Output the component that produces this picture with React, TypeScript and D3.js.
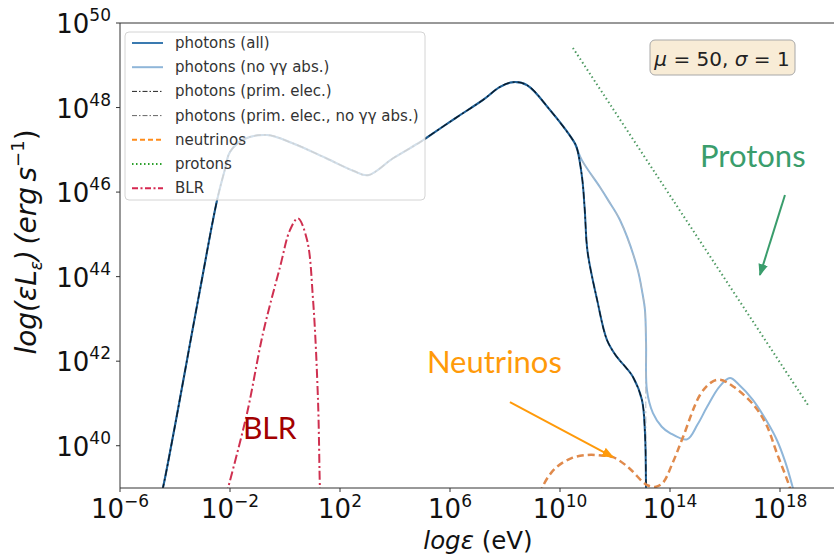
import * as d3 from 'd3'
import { useRef, useEffect } from 'react'

// log10 of energy (eV) and of luminosity (erg/s)
const sedLogE = [-4.6, -4.44, -3.16, -2.47, -2.2, -2.0, -1.5, -0.65, 0.3, 1.5, 2.5, 3.02, 3.93, 4.91, 5.09, 6.2, 7.2, 7.82, 8.29, 8.8, 9.64, 10.47]
const sedLogL = [38.6, 39.0, 43.45, 45.81, 46.5, 46.95, 47.25, 47.35, 47.15, 46.8, 46.5, 46.4, 46.8, 47.18, 47.26, 47.75, 48.18, 48.49, 48.6, 48.53, 47.94, 47.23]

const absTailLogE = [10.6, 10.8, 10.9, 11.0, 11.35, 11.71, 12.07, 12.4, 12.65, 12.98, 13.09, 13.13, 13.15]
const absTailLogL = [47.07, 46.36, 45.58, 44.6, 43.45, 42.5, 42.1, 41.85, 41.63, 41.08, 40.3, 39.0, 38.6]

const noAbsTailLogE = [10.8, 11.45, 11.75, 12.18, 12.8, 13.0, 13.09, 13.13, 13.16, 13.38, 13.7, 14.0, 14.62, 15.0, 15.35, 15.8, 16.18, 16.5, 17.02, 17.5, 17.89, 18.2, 18.47, 18.55]
const noAbsTailLogL = [46.75, 46.12, 45.81, 45.34, 44.23, 43.6, 43.21, 42.4, 41.32, 40.77, 40.45, 40.3, 40.15, 40.5, 40.92, 41.4, 41.6, 41.45, 41.08, 40.6, 40.13, 39.6, 39.0, 38.8]

const primNoAbsTailLogE = [10.8, 11.45, 11.75, 12.18, 12.8, 13.0, 13.09, 13.12, 13.13]
const primNoAbsTailLogL = [46.75, 46.12, 45.81, 45.34, 44.23, 43.6, 43.21, 41.0, 38.6]

const neutrinoLogE = [9.2, 9.35, 9.8, 10.4, 10.98, 11.5, 11.93, 12.5, 13.0, 13.2, 13.5, 13.75, 14.1, 14.47, 15.09, 15.5, 15.82, 16.3, 17.02, 17.5, 17.9, 18.36, 18.5]
const neutrinoLogL = [38.6, 39.0, 39.45, 39.7, 39.78, 39.77, 39.73, 39.48, 39.15, 39.06, 39.03, 39.13, 39.6, 40.2, 41.2, 41.5, 41.56, 41.4, 40.98, 40.5, 39.8, 39.0, 38.6]

const protonLogE = [10.47, 14.11, 19.02]
const protonLogL = [49.41, 45.81, 40.96]

const blrLogE = [-2.15, -2.07, -1.38, -0.8, -0.18, 0.18, 0.47, 0.8, 1.02, 1.2, 1.27, 1.3]
const blrLogL = [38.8, 39.0, 40.77, 42.66, 44.23, 45.1, 45.38, 44.87, 43.45, 41.08, 39.0, 38.6]

const xTickExp = [-6, -2, 2, 6, 10, 14, 18]
const yTickExp = [40, 42, 44, 46, 48, 50]

const legendLabels = [
  'photons (all)',
  'photons (no γγ abs.)',
  'photons (prim. elec.)',
  'photons (prim. elec., no γγ abs.)',
  'neutrinos',
  'protons',
  'BLR',
]

const toPts = (le: number[], ll: number[]) => le.map((e, i) => [10 ** e, 10 ** ll[i]] as [number, number])

export default function App() {
  const svgRef = useRef<SVGSVGElement>(null)
  useEffect(() => {
    document.body.style.margin = '0'
    const width = 834, height = 558
    const margin = { top: 23, left: 120, bottom: 70 }
    const svg = d3.select(svgRef.current)
    svg.selectAll('*').remove()
    svg.attr('width', width).attr('height', height)

    const x = d3.scaleLog().domain([1e-6, 1e20]).range([margin.left, 835])
    const y = d3.scaleLog().domain([1e39, 1e50]).range([height - margin.bottom, margin.top])
    const x0 = margin.left, y0 = height - margin.bottom

    svg.append('defs').append('clipPath').attr('id', 'plotclip')
      .append('rect').attr('x', x0).attr('y', margin.top).attr('width', 835 - x0).attr('height', y0 - margin.top)

    const line = d3.line<[number, number]>().x(d => x(d[0])).y(d => y(d[1])).curve(d3.curveCatmullRom.alpha(0.5))
    const plot = svg.append('g').attr('clip-path', 'url(#plotclip)')

    const sedAll = toPts(sedLogE.concat(absTailLogE), sedLogL.concat(absTailLogL))
    const sedNoAbs = toPts(sedLogE.concat(noAbsTailLogE), sedLogL.concat(noAbsTailLogL))
    const primNoAbs = toPts(sedLogE.concat(primNoAbsTailLogE), sedLogL.concat(primNoAbsTailLogL))

    plot.append('path').attr('d', line(sedNoAbs)).attr('fill', 'none').attr('stroke', '#8fb6d9').attr('stroke-width', 2)
    plot.append('path').attr('d', line(primNoAbs)).attr('fill', 'none').attr('stroke', '#b0b8c0').attr('stroke-width', 1)
      .attr('stroke-dasharray', '7,3,2,3')
    plot.append('path').attr('d', line(sedAll)).attr('fill', 'none').attr('stroke', '#1f5f94').attr('stroke-width', 2)
    plot.append('path').attr('d', line(sedAll)).attr('fill', 'none').attr('stroke', '#0d1a26').attr('stroke-width', 1.3)
      .attr('stroke-dasharray', '7,3,2,3')
    plot.append('path').attr('d', line(toPts(neutrinoLogE, neutrinoLogL))).attr('fill', 'none')
      .attr('stroke', '#e08a4c').attr('stroke-width', 2.5).attr('stroke-dasharray', '7,4')
    plot.append('path').attr('d', line(toPts(protonLogE, protonLogL))).attr('fill', 'none')
      .attr('stroke', '#4e9a62').attr('stroke-width', 2).attr('stroke-dasharray', '1.5,2.8')
    plot.append('path').attr('d', line(toPts(blrLogE, blrLogL))).attr('fill', 'none')
      .attr('stroke', '#cf3050').attr('stroke-width', 2).attr('stroke-dasharray', '9,3,2,3')

    // spines
    const spine = svg.append('g').attr('stroke', '#333').attr('stroke-width', 1).attr('fill', 'none')
    spine.append('line').attr('x1', x0).attr('x2', x0).attr('y1', margin.top).attr('y2', y0)
    spine.append('line').attr('x1', x0).attr('x2', width).attr('y1', y0).attr('y2', y0)
    spine.append('line').attr('x1', x0).attr('x2', width).attr('y1', margin.top).attr('y2', margin.top)

    const font = 'DejaVu Sans, sans-serif'
    // x ticks
    xTickExp.forEach(e => {
      const px = x(10 ** e)
      svg.append('line').attr('x1', px).attr('x2', px).attr('y1', y0).attr('y2', y0 + 4).attr('stroke', '#333')
      const t = svg.append('text').attr('x', px).attr('y', y0 + 30).attr('text-anchor', 'middle')
        .attr('font-family', font).attr('font-size', 26).attr('fill', '#111')
      t.append('tspan').text('10')
      t.append('tspan').attr('dy', -11).attr('font-size', 17).text(e < 0 ? '−' + -e : String(e))
    })
    // y ticks
    yTickExp.forEach(e => {
      const py = y(10 ** e)
      svg.append('line').attr('x1', x0 - 4).attr('x2', x0).attr('y1', py).attr('y2', py).attr('stroke', '#333')
      const t = svg.append('text').attr('x', 111).attr('y', py + 10).attr('text-anchor', 'end')
        .attr('font-family', font).attr('font-size', 26).attr('fill', '#111')
      t.append('tspan').text('10')
      t.append('tspan').attr('dy', -12).attr('font-size', 17).text(String(e))
    })

    // axis labels
    const xl = svg.append('text').attr('x', 478).attr('y', 549).attr('text-anchor', 'middle')
      .attr('font-family', font).attr('font-size', 24.5).attr('fill', '#111')
    xl.append('tspan').attr('font-style', 'italic').text('logε')
    xl.append('tspan').text(' (eV)')

    const yl = svg.append('text').attr('transform', 'translate(36,242) rotate(-90)').attr('text-anchor', 'middle')
      .attr('font-family', font).attr('font-size', 28).attr('font-style', 'italic').attr('fill', '#111')
    yl.append('tspan').text('log(εL')
    yl.append('tspan').attr('font-size', 17).attr('dy', 6).text('ε')
    yl.append('tspan').attr('dy', -6).text(')\u2009(erg\u2009s')
    yl.append('tspan').attr('font-size', 18).attr('dy', -12).attr('font-style', 'normal').text('−1')
    yl.append('tspan').attr('dy', 12).attr('font-style', 'normal').text(')')

    // legend
    const lg = svg.append('g')
    lg.append('rect').attr('x', 125).attr('y', 32).attr('width', 300).attr('height', 168).attr('rx', 4)
      .attr('fill', 'white').attr('fill-opacity', 0.8).attr('stroke', '#d4d4d4')
    const legendStyle = [
      { c: '#3a7ab0', d: null, w: 2 },
      { c: '#8fb6d9', d: null, w: 2 },
      { c: '#222', d: '5,2,1.5,2', w: 1 },
      { c: '#666', d: '5,2,1.5,2', w: 1 },
      { c: '#ff8c1a', d: '5,3', w: 2 },
      { c: '#2ca02c', d: '1.5,2.5', w: 2 },
      { c: '#d62750', d: '6,2.5,2,2.5', w: 2 },
    ]
    legendLabels.forEach((lab, i) => {
      const ly = 43 + i * 24.2
      const s = legendStyle[i]
      const l = lg.append('line').attr('x1', 132).attr('x2', 163).attr('y1', ly).attr('y2', ly)
        .attr('stroke', s.c).attr('stroke-width', s.w)
      if (s.d) l.attr('stroke-dasharray', s.d)
      lg.append('text').attr('x', 175).attr('y', ly + 5).attr('font-family', font).attr('font-size', 15)
        .attr('fill', '#333').text(lab)
    })

    // parameter box
    svg.append('rect').attr('x', 650).attr('y', 40).attr('width', 145).attr('height', 35).attr('rx', 5)
      .attr('fill', '#f8ecd6').attr('stroke', '#a8a8a8')
    const pt = svg.append('text').attr('x', 722).attr('y', 66).attr('text-anchor', 'middle')
      .attr('font-family', font).attr('font-size', 20).attr('fill', '#222')
    pt.append('tspan').attr('font-style', 'italic').text('μ')
    pt.append('tspan').text(' = 50, ')
    pt.append('tspan').attr('font-style', 'italic').text('σ')
    pt.append('tspan').text(' = 1')

    // annotations
    const defs = svg.select('defs')
    const mk = (id: string, c: string) => defs.append('marker').attr('id', id).attr('viewBox', '0 0 10 10')
      .attr('refX', 9).attr('refY', 5).attr('markerWidth', 6).attr('markerHeight', 6).attr('orient', 'auto')
      .append('path').attr('d', 'M0,1 L10,5 L0,9 z').attr('fill', c)
    mk('arrG', '#3a9d6c')
    mk('arrO', '#ff9a0a')
    const annFont = 'Lato, "Open Sans", sans-serif'
    svg.append('text').attr('x', x(10 ** 15.09)).attr('y', y(10 ** 46.59)).attr('font-family', annFont)
      .attr('font-size', 31).attr('fill', '#3a9d6c').text('Protons')
    svg.append('line').attr('x1', x(10 ** 18.18)).attr('y1', y(10 ** 45.93)).attr('x2', x(10 ** 17.27)).attr('y2', y(10 ** 44.04))
      .attr('stroke', '#3a9d6c').attr('stroke-width', 2).attr('marker-end', 'url(#arrG)')
    svg.append('text').attr('x', x(10 ** 5.16)).attr('y', y(10 ** 41.72)).attr('font-family', annFont)
      .attr('font-size', 31).attr('fill', '#ff9a0a').text('Neutrinos')
    svg.append('line').attr('x1', x(10 ** 8.18)).attr('y1', y(10 ** 41.03)).attr('x2', x(10 ** 11.93)).attr('y2', y(10 ** 39.73))
      .attr('stroke', '#ff9a0a').attr('stroke-width', 2).attr('marker-end', 'url(#arrO)')
    svg.append('text').attr('x', x(10 ** -1.53)).attr('y', y(10 ** 40.16)).attr('font-family', annFont)
      .attr('font-size', 30).attr('fill', '#a30000').text('BLR')
  }, [])
  return <svg ref={svgRef}></svg>
}
